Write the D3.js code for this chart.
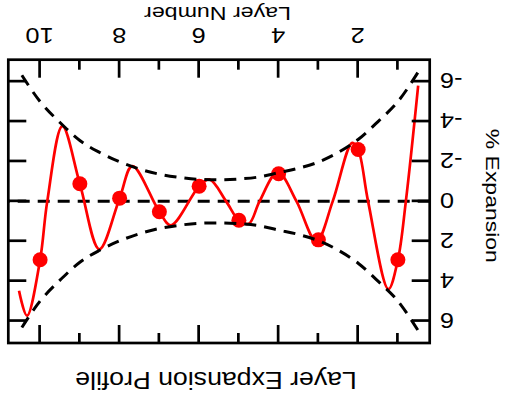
<!DOCTYPE html>
<html>
<head>
<meta charset="utf-8">
<script src="https://cdn.jsdelivr.net/npm/d3@7"></script>
<style>
  body { margin: 0; background: #fff; }
  svg { display: block; }
  text { font-family: "Liberation Sans", Arial, Helvetica, sans-serif; fill: #000; }
</style>
</head>
<body>
<script>
// Measured expansion per layer (dots)
const layers = [1, 2, 3, 4, 5, 6, 7, 8, 9, 10];
const expansion = [2.93, -2.6, 1.93, -1.38, 0.95, -0.76, 0.52, -0.16, -0.88, 2.93];

// Fitted profile curve (layer position, % expansion)
const profileLayer = [0.49, 0.8, 1.0, 1.24, 1.75, 2.0, 2.15, 2.64, 3.05, 3.55, 4.02, 4.48, 4.75, 5.0, 5.32, 5.74, 6.0, 6.71, 7.0, 7.68, 8.0, 8.51, 9.0, 9.44, 9.82, 10.0, 10.33, 10.53];
const profileValue = [-5.8, 0, 2.93, 4.4, 0, -2.6, -2.93, 0, 2.0, 0, -1.46, 0, 1.12, 0.95, 0, -1.1, -0.76, 1.2, 0.52, -1.77, -0.16, 2.4, -0.88, -3.77, 0, 2.93, 5.73, 4.48];

// Envelope magnitude (drawn as +/-)
const envelopeLayer = [0.5, 1.0, 1.5, 2.0, 2.5, 3.0, 3.5, 4.0, 4.5, 5.0, 5.5, 6.0, 6.5, 7.0, 7.5, 8.0, 8.5, 9.0, 9.5, 10.0, 10.5];
const envelopeValue = [6.45, 5.0, 4.0, 3.1, 2.45, 1.97, 1.66, 1.44, 1.22, 1.12, 1.08, 1.1, 1.2, 1.36, 1.62, 1.98, 2.45, 3.05, 3.95, 5.0, 6.45];

// Axis ticks and text
const xMajorTicks = [2, 4, 6, 8, 10];
const xMinorTicks = [1, 3, 5, 7, 9];
const yTicks = [-6, -4, -2, 0, 2, 4, 6];
const titleText = "Layer Expansion Profile";
const xTitle = "Layer Number";
const yTitle = "% Expansion";

const W = 506, H = 403;
const plot = { left: 76.3, right: 497.7, top: 60, bottom: 343.3 };

const x = d3.scaleLinear().domain([0.2, 10.8]).range([plot.left, plot.right]);
const y = d3.scaleLinear().domain([-7.1, 7.1]).range([plot.bottom, plot.top]);

const svg = d3.select("body").append("svg")
  .attr("width", W).attr("height", H);

// The whole figure is drawn turned half a revolution
const root = svg.append("g").attr("transform", `rotate(180, ${W / 2}, ${H / 2})`);

root.append("clipPath").attr("id", "plotClip")
  .append("rect")
  .attr("x", plot.left).attr("y", plot.top)
  .attr("width", plot.right - plot.left).attr("height", plot.bottom - plot.top);

const body = root.append("g").attr("clip-path", "url(#plotClip)");

// zero reference
body.append("line")
  .attr("x1", x(0.2)).attr("x2", x(10.8))
  .attr("y1", y(0)).attr("y2", y(0))
  .attr("stroke", "#000").attr("stroke-width", 3)
  .attr("stroke-dasharray", "12,8");

// profile curve
const profile = profileLayer.map((l, i) => [l, profileValue[i]]);
const line = d3.line()
  .x(d => x(d[0])).y(d => y(d[1]))
  .curve(d3.curveCatmullRom.alpha(0.5));
body.append("path")
  .datum(profile)
  .attr("d", line)
  .attr("fill", "none")
  .attr("stroke", "#ff0000")
  .attr("stroke-width", 2.7);

// layer dots
body.selectAll("circle.pt")
  .data(layers.map((l, i) => [l, expansion[i]]))
  .join("circle")
  .attr("class", "pt")
  .attr("cx", d => x(d[0])).attr("cy", d => y(d[1]))
  .attr("r", 7.5)
  .attr("fill", "#ff0000");

// envelopes
const envLine = d3.line()
  .x(d => x(d[0])).y(d => y(d[1]))
  .curve(d3.curveMonotoneX);
[1, -1].forEach(sign => {
  body.append("path")
    .datum(envelopeLayer.map((l, i) => [l, sign * envelopeValue[i]]))
    .attr("d", envLine)
    .attr("fill", "none")
    .attr("stroke", "#000")
    .attr("stroke-width", 3)
    .attr("stroke-dasharray", "12,8");
});

// axes
function styleAxis(g) {
  g.select(".domain").remove();
  g.selectAll(".tick line").attr("stroke", "#000").attr("stroke-width", 2.7);
}

// plain hyphen-minus for negative labels
const fmt = d => String(d);

// bottom: labelled major ticks
root.append("g")
  .attr("transform", `translate(0,${plot.bottom})`)
  .call(d3.axisBottom(x).tickValues(xMajorTicks).tickSizeInner(-18).tickSizeOuter(0).tickFormat(fmt))
  .call(styleAxis)
  .call(g => g.selectAll(".tick text")
    .attr("y", null).attr("dy", null)
    .attr("font-size", 22)
    .attr("transform", "translate(0,31.4) scale(1.15,1)"));
root.append("g")
  .attr("transform", `translate(0,${plot.bottom})`)
  .call(d3.axisBottom(x).tickValues(xMinorTicks).tickSizeInner(-10).tickSizeOuter(0).tickFormat(""))
  .call(styleAxis);

// top: ticks only
root.append("g")
  .attr("transform", `translate(0,${plot.top})`)
  .call(d3.axisTop(x).tickValues(xMajorTicks).tickSizeInner(-18).tickSizeOuter(0).tickFormat(""))
  .call(styleAxis);
root.append("g")
  .attr("transform", `translate(0,${plot.top})`)
  .call(d3.axisTop(x).tickValues(xMinorTicks).tickSizeInner(-10).tickSizeOuter(0).tickFormat(""))
  .call(styleAxis);

// left: labelled
root.append("g")
  .attr("transform", `translate(${plot.left},0)`)
  .call(d3.axisLeft(y).tickValues(yTicks).tickSizeInner(-18).tickSizeOuter(0).tickFormat(fmt))
  .call(styleAxis)
  .call(g => g.selectAll(".tick text")
    .attr("x", null).attr("dy", null)
    .attr("text-anchor", "end")
    .attr("font-size", 22)
    .attr("transform", "translate(-10.3,7.9) scale(1.15,1)"));

// right: ticks only
root.append("g")
  .attr("transform", `translate(${plot.right},0)`)
  .call(d3.axisRight(y).tickValues(yTicks).tickSizeInner(-18).tickSizeOuter(0).tickFormat(""))
  .call(styleAxis);

// frame
root.append("rect")
  .attr("x", plot.left).attr("y", plot.top)
  .attr("width", plot.right - plot.left).attr("height", plot.bottom - plot.top)
  .attr("fill", "none").attr("stroke", "#000").attr("stroke-width", 2.7);

// titles
root.append("text")
  .attr("text-anchor", "middle")
  .attr("font-size", 23)
  .attr("transform", "translate(290,31.5) scale(1.16,1)")
  .text(titleText);

root.append("text")
  .attr("text-anchor", "middle")
  .attr("font-size", 19)
  .attr("transform", "translate(288.5,396) scale(1.22,1)")
  .text(xTitle);

root.append("text")
  .attr("text-anchor", "middle")
  .attr("font-size", 19)
  .attr("transform", "translate(20.3,207.2) rotate(-90) scale(1.21,1)")
  .text(yTitle);
</script>
</body>
</html>
